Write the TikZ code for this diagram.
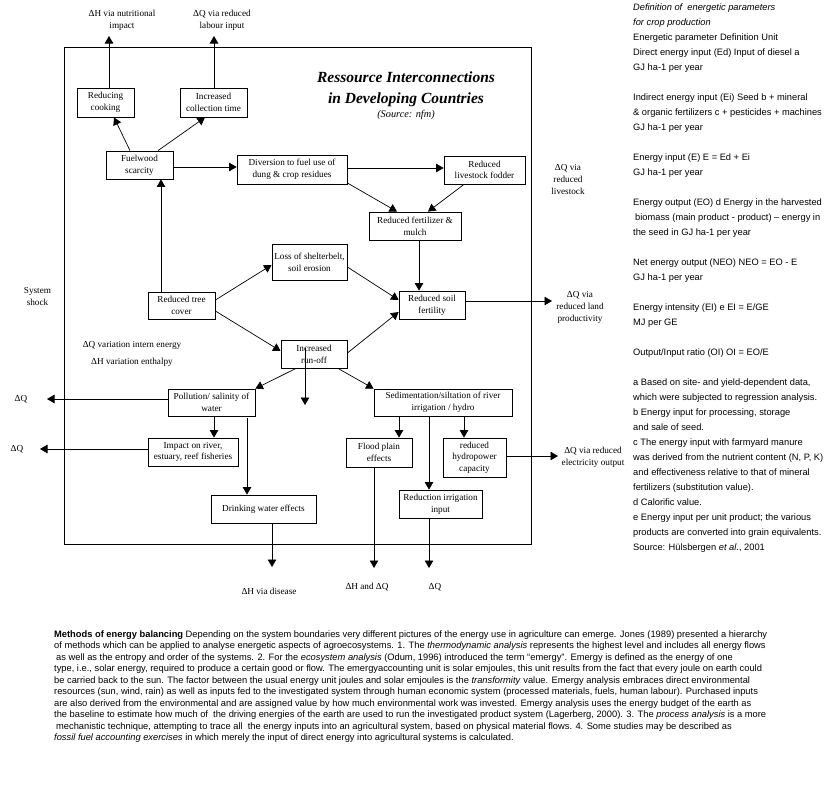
\documentclass[tikz,border=0pt]{standalone}
\usepackage{fontspec}
\setmainfont{Liberation Serif}
\setsansfont{Liberation Sans}
\usetikzlibrary{arrows.meta,calc}
\begin{document}
\begin{tikzpicture}[x=1pt,y=-1pt,
  box/.style={draw, line width=0.8pt, inner sep=0pt, align=center, font=\fontsize{9.2}{11.7}\selectfont},
  lbl/.style={inner sep=0pt, align=center, font=\fontsize{9.2}{12}\selectfont},
  arr/.style={line width=0.7pt, -{Triangle[length=7.5pt,width=8.5pt]}},
  frame/.style={line width=0.9pt}
]
\useasboundingbox (0,0) rectangle (840,787);

% frame
\draw[frame] (64,47) rectangle (531,544);

% title
\node[lbl, font=\bfseries\itshape\fontsize{15.5}{21}\selectfont] (title) at (406,89.5) {Ressource Interconnections\\in Developing Countries};
\node[lbl, font=\itshape\fontsize{10.3}{12}\selectfont] (source) at (406,115) {(Source: nfm)};

% boxes
\node[box, minimum width=57, minimum height=29] (cook) at (105.5,102.5) {Reducing\\cooking};
\node[box, minimum width=67, minimum height=29] (collect) at (213.5,102.5) {Increased\\collection time};
\node[box, minimum width=67, minimum height=28] (fuel) at (139.5,165) {Fuelwood\\scarcity};
\node[box, minimum width=110, minimum height=29] (divers) at (292,169.5) {Diversion to fuel use of\\dung \& crop residues};
\node[box, minimum width=81, minimum height=28] (fodder) at (484.5,170) {Reduced\\livestock fodder};
\node[box, minimum width=92, minimum height=28] (fert) at (415,226) {Reduced fertilizer \&\\mulch};
\node[box, minimum width=75, minimum height=36] (shelter) at (309.5,262) {Loss of shelterbelt,\\soil erosion};
\node[box, minimum width=67, minimum height=27] (tree) at (181.5,305.5) {Reduced tree\\cover};
\node[box, minimum width=66, minimum height=28] (soil) at (432,305) {Reduced soil\\fertility};
\node[box, minimum width=66, minimum height=28] (runoff) at (314,354) {Increased\\run-off};
\node[box, minimum width=87, minimum height=27] (pollu) at (211.5,402.5) {Pollution/ salinity of\\water};
\node[box, minimum width=90, minimum height=28] (impact) at (193,452) {Impact on river,\\estuary, reef fisheries};
\node[box, minimum width=105, minimum height=28] (drink) at (263.5,509) {Drinking water effects};
\node[box, minimum width=138, minimum height=27] (sedim) at (443,402.5) {Sedimentation/siltation of river\\irrigation / hydro};
\node[box, minimum width=66, minimum height=29] (flood) at (379,452.5) {Flood plain\\effects};
\node[box, minimum width=63, minimum height=39] (hydro) at (474.5,457.5) {reduced\\hydropower\\capacity};
\node[box, minimum width=83, minimum height=28] (irrig) at (440.5,504) {Reduction irrigation\\input};

% free labels
\node[lbl] (lH1) at (122,20) {ΔH via nutritional\\impact};
\node[lbl] (lQ1) at (222,20) {ΔQ via reduced\\labour input};
\node[lbl] (lLive) at (568,179) {ΔQ via\\reduced\\livestock};
\node[lbl] (lLand) at (580,307) {ΔQ via\\reduced land\\productivity};
\node[lbl] (lShock) at (37.5,296.5) {System\\shock};
\node[lbl] (lQvar) at (132,345) {ΔQ variation intern energy};
\node[lbl] (lHvar) at (132,362) {ΔH variation enthalpy};
\node[lbl] (lQ2) at (21,399) {ΔQ};
\node[lbl] (lQ3) at (17,449) {ΔQ};
\node[lbl] (lElec) at (593,457.5) {ΔQ via reduced\\electricity output};
\node[lbl] (lDis) at (269,591) {ΔH via disease};
\node[lbl] (lHQ) at (367,587) {ΔH and ΔQ};
\node[lbl] (lQ4) at (435,587) {ΔQ};

% free ends
\coordinate (eCook) at (109,36);
\coordinate (eColl) at (214,36);
\coordinate (eLand) at (552,301);
\coordinate (eRun) at (305,405);
\coordinate (ePol) at (47,399);
\coordinate (eImp) at (40,449);
\coordinate (eDrink) at (272,567);
\coordinate (eFlood) at (374,568);
\coordinate (eIrrig) at (429,568);
\coordinate (eHydro) at (558,456);

% connectors
\draw[arr] (109,0 |- cook.north) -- (eCook);
\draw[arr] (214,0 |- collect.north) -- (eColl);
\draw[arr] (130,0 |- fuel.north) -- (114,0 |- cook.south);
\draw[arr] (158,0 |- fuel.north) -- (205,0 |- collect.south);
\draw[arr] (fuel.east |- 0,167) -- (divers.west |- 0,167);
\draw[arr] (161,0 |- tree.north) -- (161,0 |- fuel.south);
\draw[arr] (divers.east |- 0,168) -- (fodder.west |- 0,168);
\draw[arr] (divers.east |- 0,183) -- (397,0 |- fert.north);
\draw[arr] (464,0 |- fodder.south) -- (428,0 |- fert.north);
\draw[arr] (419,0 |- fert.south) -- (419,0 |- soil.north);
\draw[arr] (tree.east |- 0,300) -- (shelter.west |- 0,265);
\draw[arr] (tree.east |- 0,311) -- (runoff.west |- 0,351);
\draw[arr] (shelter.east |- 0,267) -- (soil.west |- 0,300);
\draw[arr] (runoff.east |- 0,353) -- (soil.west |- 0,312);
\draw[arr] (soil.east |- 0,301) -- (eLand);
\draw[arr] (296,0 |- runoff.south) -- (pollu.north east);
\draw[arr] ($(runoff.center)+(-9,-6)$) -- (eRun);
\draw[arr] (338,0 |- runoff.south) -- (sedim.north west);
\draw[arr] (pollu.west |- 0,399) -- (ePol);
\draw[arr] (214,0 |- pollu.south) -- (214,0 |- impact.north);
\draw[arr] (impact.west |- 0,449) -- (eImp);
\draw[arr] ($(247,0 |- pollu.south)+(0,2)$) -- (247,0 |- drink.north);
\draw[arr] (272,0 |- drink.south) -- (eDrink);
\draw[arr] (399,0 |- sedim.south) -- (399,0 |- flood.north);
\draw[arr] (429,0 |- sedim.south) -- (429,0 |- irrig.north);
\draw[arr] (464,0 |- sedim.south) -- (464,0 |- hydro.north);
\draw[arr] (374,0 |- flood.south) -- (eFlood);
\draw[arr] (429,0 |- irrig.south) -- (eIrrig);
\draw[arr] (hydro.east |- 0,456) -- (eHydro);

% right column
\node[anchor=north west, inner sep=0pt, align=left, font=\sffamily\fontsize{9.3}{15}\selectfont] (defs) at (633,4) {%
\textit{Definition of\ \ energetic parameters}\\
\textit{for crop production}\\
Energetic parameter Definition Unit\\
Direct energy input (Ed) Input of diesel a\\
GJ ha-1 per year\\[15pt]
Indirect energy input (Ei) Seed b + mineral\\
\& organic fertilizers c + pesticides + machines\\
GJ ha-1 per year\\[15pt]
Energy input (E) E = Ed + Ei\\
GJ ha-1 per year\\[15pt]
Energy output (EO) d Energy in the harvested\\
\hspace{2pt}biomass (main product - product) – energy in\\
the seed in GJ ha-1 per year\\[15pt]
Net energy output (NEO) NEO = EO - E\\
GJ ha-1 per year\\[15pt]
Energy intensity (EI) e EI = E/GE\\
MJ per GE\\[15pt]
Output/Input ratio (OI) OI = EO/E\\[15pt]
a Based on site- and yield-dependent data,\\
which were subjected to regression analysis.\\
b Energy input for processing, storage\\
and sale of seed.\\
c The energy input with farmyard manure\\
was derived from the nutrient content (N, P, K)\\
and effectiveness relative to that of mineral\\
fertilizers (substitution value).\\
d Calorific value.\\
e Energy input per unit product; the various\\
products are converted into grain equivalents.\\
Source: Hülsbergen \textit{et al}., 2001};

% bottom paragraph
\node[anchor=north west, inner sep=0pt, align=left, font=\sffamily\fontsize{9.32}{11.5}\selectfont] (methods) at (54,630.5) {%
\textbf{Methods of energy balancing} Depending on the system boundaries very different pictures of the energy use in agriculture can emerge. Jones (1989) presented a hierarchy\\
of methods which can be applied to analyse energetic aspects of agroecosystems. 1. The \textit{thermodynamic analysis} represents the highest level and includes all energy flows\\
\hspace{2pt}as well as the entropy and order of the systems. 2. For the \textit{ecosystem analysis} (Odum, 1996) introduced the term “emergy”. Emergy is defined as the energy of one\\
type, i.e., solar energy, required to produce a certain good or flow. The emergyaccounting unit is solar emjoules, this unit results from the fact that every joule on earth could\\
be carried back to the sun. The factor between the usual energy unit joules and solar emjoules is the \textit{transformity} value. Emergy analysis embraces direct environmental\\
resources (sun, wind, rain) as well as inputs fed to the investigated system through human economic system (processed materials, fuels, human labour). Purchased inputs\\
are also derived from the environmental and are assigned value by how much environmental work was invested. Emergy analysis uses the energy budget of the earth as\\
the baseline to estimate how much of\ \ the driving energies of the earth are used to run the investigated product system (Lagerberg, 2000). 3. The \textit{process analysis} is a more\\
\hspace{2pt}mechanistic technique, attempting to trace all\ \ the energy inputs into an agricultural system, based on physical material flows. 4. Some studies may be described as\\
\textit{fossil fuel accounting exercises} in which merely the input of direct energy into agricultural systems is calculated.};
\end{tikzpicture}
\end{document}
